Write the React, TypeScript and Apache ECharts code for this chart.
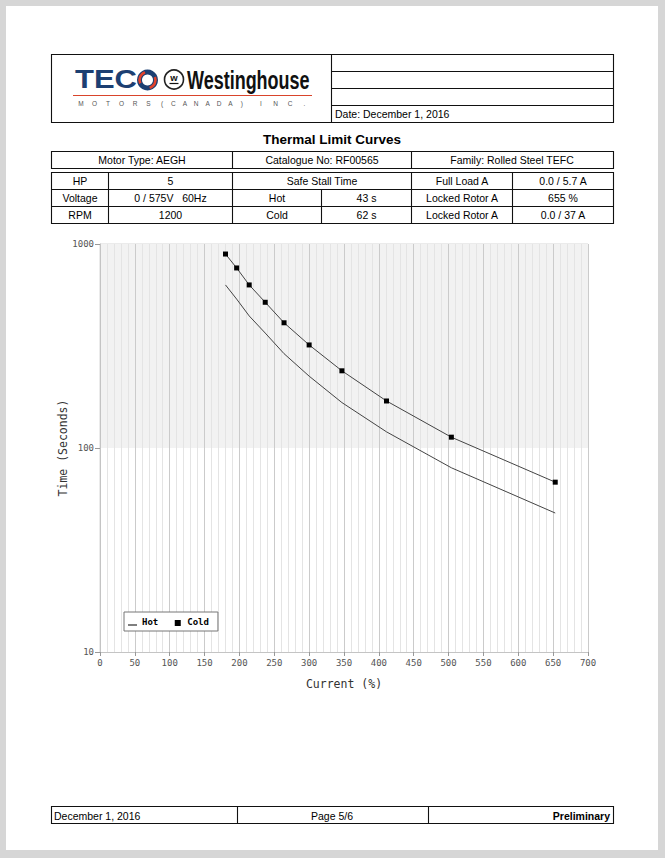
import React, { useEffect, useRef } from "react";
import * as echarts from "echarts";

// ---- chart data ----
const currentPct = [180, 196, 214, 237, 264, 300, 347, 411, 504, 653];
const coldSeconds = [893, 763, 630, 518, 411, 320, 239, 170, 113, 68];
const hotSeconds = [630, 537, 444, 366, 290, 225, 167, 120, 80, 48];
const seriesNames = ["Hot", "Cold"];

// ---- page texts ----
const headerDate = "Date: December 1, 2016";
const titleText = "Thermal Limit Curves";
const infoRow = ["Motor Type: AEGH", "Catalogue No: RF00565", "Family: Rolled Steel TEFC"];
const specLabels = ["HP", "Voltage", "RPM"];
const specValues = ["5", "0 / 575V   60Hz", "1200"];
const stallLabels = ["Hot", "Cold"];
const stallValues = ["43 s", "62 s"];
const ampLabels = ["Full Load A", "Locked Rotor A", "Locked Rotor A"];
const ampValues = ["0.0 / 5.7 A", "655 %", "0.0 / 37 A"];
const footerTexts = ["December 1, 2016", "Page 5/6", "Preliminary"];

const SANS = "'Liberation Sans', Arial, sans-serif";
const MONO = "'DejaVu Sans Mono', monospace";

function T(text: string, x: number, y: number, o: any = {}) {
  const align = o.align ?? "center";
  return {
    type: "text",
    x,
    y,
    scaleX: o.scaleX ?? 1,
    silent: true,
    z: 10,
    style: {
      text,
      fontSize: o.size ?? 10.5,
      fontFamily: o.family ?? SANS,
      fontWeight: o.weight ?? "normal",
      fill: o.fill ?? "#000",
      align,
      textAlign: align,
      verticalAlign: "middle",
      textVerticalAlign: "middle",
    },
  };
}
function L(x1: number, y1: number, x2: number, y2: number, stroke = "#111", lineWidth = 1.1) {
  return { type: "line", silent: true, z: 10, shape: { x1, y1, x2, y2 }, style: { stroke, lineWidth } };
}
function R(x: number, y: number, width: number, height: number, stroke = "#111", lineWidth = 1.1) {
  return { type: "rect", silent: true, z: 10, shape: { x, y, width, height }, style: { fill: "none", stroke, lineWidth } };
}

function buildGraphics() {
  const g: any[] = [];
  // header box
  g.push(R(51.5, 54.5, 562, 68));
  g.push(L(331.5, 54.5, 331.5, 122.5));
  [71.5, 88.5, 105.5].forEach((y) => g.push(L(331.5, y, 613.5, y)));
  g.push(T(headerDate, 335, 113.5, { align: "left" }));

  // logo
  g.push(T("TEC", 75, 80, { size: 25, weight: "bold", fill: "#1c3f72", align: "left", scaleX: 1.24 }));
  g.push({ type: "ring", silent: true, z: 10, shape: { cx: 147.5, cy: 80, r: 10.5, r0: 5.5 }, style: { fill: "#1c3f72" } });
  g.push({ type: "arc", silent: true, z: 11, shape: { cx: 147.5, cy: 80, r: 8, startAngle: -0.4, endAngle: 1.3, clockwise: true }, style: { stroke: "#e2412b", lineWidth: 2.6, fill: "none" } });
  g.push({ type: "arc", silent: true, z: 11, shape: { cx: 147.5, cy: 80, r: 8, startAngle: 2.7, endAngle: 4.4, clockwise: true }, style: { stroke: "#e2412b", lineWidth: 2.6, fill: "none" } });
  g.push({ type: "circle", silent: true, z: 10, shape: { cx: 174, cy: 79.5, r: 9.5 }, style: { fill: "#fff", stroke: "#222", lineWidth: 1.6 } });
  g.push(T("w", 174, 77.5, { size: 9.5, weight: "bold", fill: "#111" }));
  g.push(L(169.5, 83.5, 178.5, 83.5, "#111", 1.2));
  g.push(T("Westinghouse", 187, 80, { size: 25, weight: "bold", fill: "#111", align: "left", scaleX: 0.72 }));
  g.push(L(73, 95.5, 312, 95.5, "#d9442b", 1.2));
  const motors: [string, number][] = [];
  "MOTORS".split("").forEach((c, i) => motors.push([c, 81 + i * 13.5]));
  "(CANADA)".split("").forEach((c, i) => motors.push([c, 162 + i * 11.4]));
  "INC.".split("").forEach((c, i) => motors.push([c, 261 + i * 14.5]));
  motors.forEach(([c, x]) => g.push(T(c, x, 103.5, { size: 6.5, fill: "#555" })));

  // title
  g.push(T(titleText, 332, 139, { size: 13.5, weight: "bold" }));

  // info row
  g.push(R(51.5, 151.5, 562, 17));
  g.push(L(232.5, 151.5, 232.5, 168.5));
  g.push(L(411.5, 151.5, 411.5, 168.5));
  g.push(T(infoRow[0], 142, 160));
  g.push(T(infoRow[1], 322, 160));
  g.push(T(infoRow[2], 512, 160));

  // spec table
  g.push(R(51.5, 172.5, 562, 51));
  g.push(L(51.5, 189.5, 613.5, 189.5));
  g.push(L(51.5, 206.5, 613.5, 206.5));
  [108.5, 232.5, 411.5, 512.5].forEach((x) => g.push(L(x, 172.5, x, 223.5)));
  g.push(L(321.5, 189.5, 321.5, 223.5));
  const rowY = [181, 198, 215];
  rowY.forEach((y, i) => {
    g.push(T(specLabels[i], 80, y));
    g.push(T(specValues[i], 170.5, y));
    g.push(T(ampLabels[i], 462, y));
    g.push(T(ampValues[i], 563, y));
  });
  g.push(T("Safe Stall Time", 322, rowY[0]));
  stallLabels.forEach((s, i) => {
    g.push(T(s, 277, rowY[i + 1]));
    g.push(T(stallValues[i], 366.5, rowY[i + 1]));
  });

  // footer
  g.push(R(51.5, 806.5, 562, 17));
  g.push(L(237.5, 806.5, 237.5, 823.5));
  g.push(L(428.5, 806.5, 428.5, 823.5));
  g.push(T(footerTexts[0], 54, 815.5, { align: "left" }));
  g.push(T(footerTexts[1], 332, 815.5));
  g.push(T(footerTexts[2], 610, 815.5, { align: "right", weight: "bold" }));
  return g;
}

const hotIcon = "path://M0,0L0.01,0L0.01,0.01Z M0,7.4L9,7.4L9,8.5L0,8.5Z M8.99,9L9,9L9,8.99Z";
const coldIcon = "path://M0,0L0.01,0L0.01,0.01Z M1.5,3L7.5,3L7.5,9L1.5,9Z M8.99,9L9,9L9,8.99Z";

export default function App() {
  const ref = useRef<HTMLDivElement>(null);
  useEffect(() => {
    document.body.style.margin = "0";
    const chart = echarts.init(ref.current!, null, { renderer: "svg", width: 665, height: 858 });
    const axisLabel = { fontFamily: MONO, fontSize: 9, color: "#555" };
    chart.setOption({
      animation: false,
      backgroundColor: "transparent",
      graphic: { elements: buildGraphics() },
      grid: { left: 100, top: 244, width: 488, height: 408, show: true, borderColor: "#d6d6d6", borderWidth: 1, backgroundColor: "transparent" },
      legend: {
        left: 124,
        top: 612,
        orient: "horizontal",
        selectedMode: false,
        borderColor: "#777",
        borderWidth: 1,
        borderRadius: 0,
        backgroundColor: "#fff",
        padding: [5, 9, 5, 4],
        itemGap: 15,
        itemWidth: 9,
        itemHeight: 9,
        textStyle: { fontFamily: MONO, fontWeight: "bold", fontSize: 9, color: "#000" },
        data: [
          { name: seriesNames[0], icon: hotIcon, itemStyle: { color: "#000" } },
          { name: seriesNames[1], icon: coldIcon, itemStyle: { color: "#000" } },
        ],
      },
      xAxis: {
        type: "value",
        min: 0,
        max: 700,
        interval: 50,
        name: "Current (%)",
        nameLocation: "middle",
        nameGap: 26,
        nameMoveOverlap: false,
        nameTextStyle: { fontFamily: MONO, fontSize: 11.5, color: "#333" },
        axisLine: { show: true, lineStyle: { color: "#c4c4c4" } },
        axisTick: { show: true, length: 4, lineStyle: { color: "#999" } },
        axisLabel: { ...axisLabel, margin: 6 },
        splitLine: { show: true, lineStyle: { color: "#cbcbcb", width: 1 } },
        minorTick: { show: false, splitNumber: 5 },
        minorSplitLine: { show: true, lineStyle: { color: "#e4e4e4", width: 1 } },
      },
      yAxis: {
        type: "log",
        logBase: 10,
        min: 10,
        max: 1000,
        name: "Time (Seconds)",
        nameLocation: "middle",
        nameGap: 31,
        nameMoveOverlap: false,
        nameRotate: 90,
        nameTextStyle: { fontFamily: MONO, fontSize: 11.5, color: "#333" },
        axisLine: { show: true, lineStyle: { color: "#c4c4c4" } },
        axisTick: { show: true, length: 5, lineStyle: { color: "#999" } },
        axisLabel: { ...axisLabel, margin: 6, formatter: (v: number) => String(Math.round(v)) },
        splitLine: { show: false },
        splitArea: { show: true, areaStyle: { color: ["#ffffff", "#f2f2f2"] } },
      },
      series: [
        {
          name: seriesNames[0],
          type: "line",
          data: currentPct.map((x, i) => [x, hotSeconds[i]]),
          symbol: "none",
          showSymbol: false,
          lineStyle: { color: "#444", width: 1 },
          itemStyle: { color: "#000" },
        },
        {
          name: seriesNames[1],
          type: "line",
          data: currentPct.map((x, i) => [x, coldSeconds[i]]),
          symbol: "rect",
          symbolSize: 5,
          showSymbol: true,
          lineStyle: { color: "#444", width: 1 },
          itemStyle: { color: "#000" },
        },
      ],
    });
    return () => chart.dispose();
  }, []);
  return (
    <div style={{ position: "absolute", left: 0, top: 0, width: 665, height: 858, background: "#d6d6d6" }}>
      <div style={{ position: "absolute", left: 6, top: 6, width: 652, height: 844, background: "#fff" }} />
      <div ref={ref} style={{ position: "absolute", left: 0, top: 0, width: 665, height: 858 }} />
    </div>
  );
}
